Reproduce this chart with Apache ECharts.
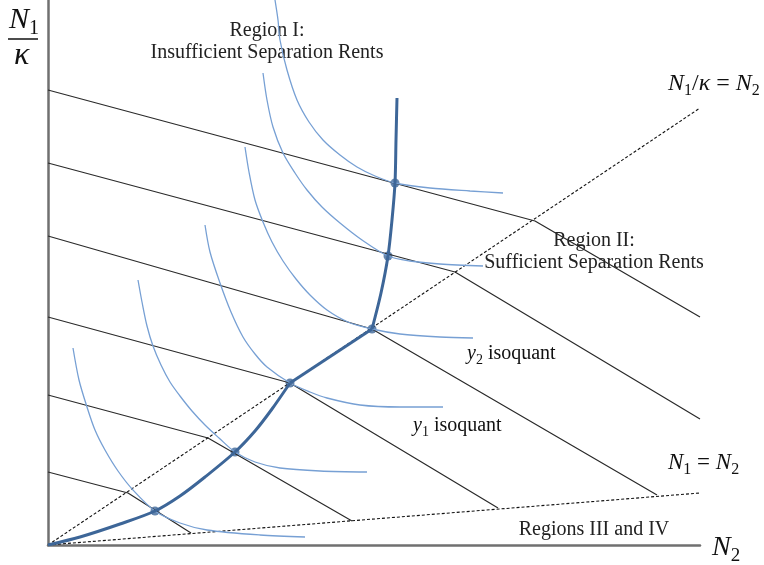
<!DOCTYPE html>
<html>
<head>
<meta charset="utf-8">
<script src="https://cdn.jsdelivr.net/npm/echarts@6/dist/echarts.min.js"></script>
<style>
  html, body { margin: 0; padding: 0; background: #fff; }
  #chart { width: 764px; height: 565px; }
</style>
</head>
<body>
<div id="chart"></div>
<script>
// units: N2 along x, N1/kappa along y
var rayUpper = [[0, 0], [652, 437]]   // N1/k = N2
var rayLower = [[0, 0], [652, 52]]    // N1 = N2

// kinked isocost lines: y-intercept, kink on upper ray, end
var isocost = [
  [[0, 455], [487, 324], [652, 228]],
  [[0, 382], [407, 273], [652, 126]],
  [[0, 309], [324, 216], [609, 50]],
  [[0, 228], [242, 162], [450, 37]],
  [[0, 150], [160, 107], [304, 24]],
  [[0, 73], [80, 52], [143, 12]]
]

var isoquants = [
  [[25, 197], [31, 165], [39, 138], [47, 115], [57, 95], [70, 74], [85, 55], [107, 34], [132, 22], [159, 15], [212, 10], [257, 8]],
  [[90, 265], [94, 243], [99, 219], [105, 199], [113, 180], [122, 163], [132, 149], [144, 134], [157, 120], [171, 107], [187, 93],
    [207, 83], [232, 77], [272, 74], [319, 73]],
  [[157, 320], [162, 293], [172, 262], [183, 233], [195, 208], [207, 191], [219, 178], [242, 162], [262, 153], [279, 147],
    [312, 140], [352, 138], [395, 138]],
  [[197, 398], [201, 373], [207, 345], [215, 323], [224, 303], [235, 284], [248, 266], [262, 250], [279, 235], [300, 223],
    [324, 216], [352, 211], [392, 208], [425, 207]],
  [[215, 472], [219, 445], [225, 418], [235, 392], [247, 372], [259, 355], [274, 338], [292, 322], [314, 305], [340, 289],
    [362, 284], [392, 281], [435, 279]],
  [[227, 545], [230, 525], [232, 505], [239, 475], [249, 445], [261, 423], [275, 405], [292, 390], [309, 378], [327, 369],
    [347, 362], [382, 357], [422, 354], [455, 352]]
]

// expansion path: curved low part, straight middle, steep upper part
var pathLow = [[0, 0], [32, 8], [72, 21], [107, 34], [132, 49], [157, 68], [187, 93], [207, 114], [224, 136], [242, 162]]
var pathMid = [[242, 162], [324, 216]]
var pathHigh = [[324, 216], [333, 252], [340, 289], [344, 325], [347, 362], [348, 405], [349, 447]]
var tangency = [[107, 34], [187, 93], [242, 162], [324, 216], [340, 289], [347, 362]]

var myChart = echarts.init(document.getElementById('chart'))

var series = []
isocost.forEach(function (d) {
  series.push({ type: 'line', data: d, symbol: 'none', lineStyle: { color: '#2a2a2a', width: 1.2 } })
})
;[rayUpper, rayLower].forEach(function (d) {
  series.push({ type: 'line', data: d, symbol: 'none', lineStyle: { color: '#111', width: 1.1, type: [3, 2] } })
})
isoquants.forEach(function (d) {
  series.push({ type: 'line', data: d, symbol: 'none', smooth: 0.3,
    lineStyle: { color: '#77a0d4', width: 1.3 } })
})
;[pathLow, pathMid, pathHigh].forEach(function (d) {
  series.push({ type: 'line', data: d, symbol: 'none', smooth: 0.3,
    lineStyle: { color: '#3d6698', width: 3 } })
})
series.push({ type: 'scatter', data: tangency, symbolSize: 9, itemStyle: { color: '#3d6698' } })

// math labels laid out piece by piece
var cv = document.createElement('canvas').getContext('2d')
function mathRow(x, y, parts, size) {
  var els = []
  parts.forEach(function (p) {
    var sub = p[1] === 's'
    var fs = sub ? Math.round(size * 0.68) : size
    var font = (p[1] === 'i' ? 'italic ' : '') + fs + 'px "Liberation Serif"'
    cv.font = font
    els.push({ type: 'text', x: x, y: sub ? y + size * 0.3 : y,
      style: { text: p[0], font: font, fill: '#111', align: 'left', verticalAlign: 'middle' } })
    x += cv.measureText(p[0]).width
  })
  return els
}
function label(x, y, text, size) {
  return { type: 'text', x: x, y: y,
    style: { text: text, font: size + 'px "Liberation Serif"', fill: '#222', align: 'center', verticalAlign: 'middle' } }
}

var graphics = []
  .concat(mathRow(9, 20, [['N', 'i'], ['1', 's']], 30))
  .concat([{ type: 'line', shape: { x1: 8, y1: 39, x2: 38, y2: 39 }, style: { stroke: '#111', lineWidth: 1.5 } }])
  .concat(mathRow(14, 56, [['κ', 'i']], 32))
  .concat(mathRow(668, 84, [['N', 'i'], ['1', 's'], ['/', 'r'], ['κ', 'i'], [' = ', 'r'], ['N', 'i'], ['2', 's']], 24))
  .concat(mathRow(668, 463, [['N', 'i'], ['1', 's'], [' = ', 'r'], ['N', 'i'], ['2', 's']], 23))
  .concat(mathRow(712, 548, [['N', 'i'], ['2', 's']], 28))
  .concat(mathRow(467, 354, [['y', 'i'], ['2', 's'], [' isoquant', 'r']], 20))
  .concat(mathRow(413, 426, [['y', 'i'], ['1', 's'], [' isoquant', 'r']], 20))
  .concat([
    label(267, 31, 'Region I:', 20),
    label(267, 53, 'Insufficient Separation Rents', 20),
    label(594, 241, 'Region II:', 20),
    label(594, 263, 'Sufficient Separation Rents', 20),
    label(594, 530, 'Regions III and IV', 20)
  ])

var option = {
  animation: false,
  backgroundColor: '#fff',
  grid: { left: 48, right: 64, top: 0, bottom: 20 },
  xAxis: {
    type: 'value', min: 0, max: 652,
    axisLine: { show: true, lineStyle: { color: '#707070', width: 2.5 } },
    axisTick: { show: false }, axisLabel: { show: false }, splitLine: { show: false }
  },
  yAxis: {
    type: 'value', min: 0, max: 545,
    axisLine: { show: true, lineStyle: { color: '#707070', width: 2.5 } },
    axisTick: { show: false }, axisLabel: { show: false }, splitLine: { show: false }
  },
  series: series,
  graphic: graphics
}
myChart.setOption(option)
</script>
</body>
</html>
